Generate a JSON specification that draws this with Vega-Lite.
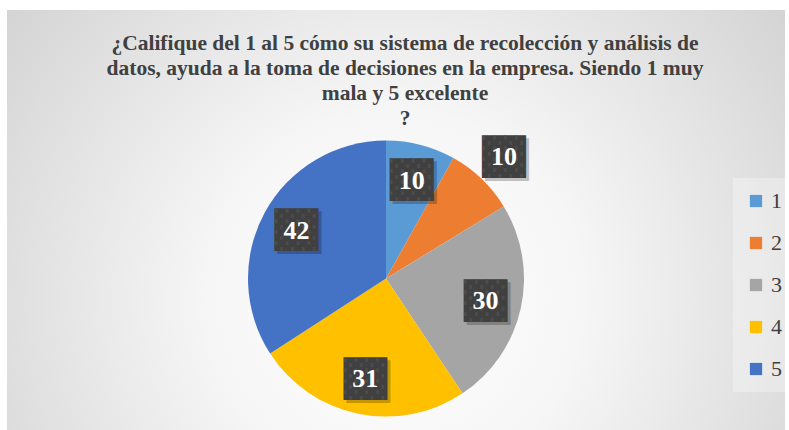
{
  "$schema": "https://vega.github.io/schema/vega-lite/v6.json",
  "width": 778,
  "height": 420,
  "padding": {"left": 7, "top": 10, "right": 4, "bottom": 0},
  "autosize": {"type": "none"},
  "background": "#ffffff",
  "config": {"view": {"stroke": null}},
  "title": {
    "text": [
      "¿Califique del 1 al 5 cómo su sistema de recolección y análisis de",
      "datos, ayuda a la toma de decisiones en la empresa. Siendo 1 muy",
      "mala y 5 excelente",
      "?"
    ],
    "font": "'Liberation Serif', 'Times New Roman', serif",
    "fontSize": 21.5,
    "fontWeight": "bold",
    "color": "#404040",
    "lineHeight": 25,
    "offset": -119,
    "dx": 9
  },
  "data": {
    "values": [
      {"cat": "1", "v": 10},
      {"cat": "2", "v": 10},
      {"cat": "3", "v": 30},
      {"cat": "4", "v": 31},
      {"cat": "5", "v": 42}
    ]
  },
  "layer": [
    {
      "mark": {
        "type": "rect",
        "fill": {
          "gradient": "radial",
          "x1": 0.5, "y1": 0.6, "r1": 0,
          "x2": 0.5, "y2": 0.6, "r2": 0.8,
          "stops": [
            {"offset": 0, "color": "#ffffff"},
            {"offset": 0.3, "color": "#f6f6f6"},
            {"offset": 1, "color": "#c4c4c4"}
          ]
        }
      },
      "encoding": {}
    },
    {
      "mark": {"type": "arc", "radius": 138, "xOffset": -10, "yOffset": 58.5},
      "encoding": {
        "theta": {"field": "v", "type": "quantitative", "stack": true},
        "color": {
          "field": "cat",
          "type": "nominal",
          "scale": {"domain": ["1", "2", "3", "4", "5"], "range": ["#5B9BD5", "#ED7D31", "#A5A5A5", "#FFC000", "#4472C4"]},
          "legend": {
            "title": null,
            "orient": "none",
            "legendX": 726,
            "legendY": 168,
            "symbolType": "square",
            "symbolSize": 150,
            "symbolStrokeWidth": 0,
            "labelFont": "'Liberation Serif', 'Times New Roman', serif",
            "labelFontSize": 22,
            "labelColor": "#404040",
            "labelOffset": 4,
            "rowPadding": 20,
            "padding": 12,
            "fillColor": "rgba(255,255,255,0.3)"
          }
        }
      }
    },
    {
      "mark": {"type": "text", "font": "DejaVu Sans Mono", "fontSize": 36, "color": "#000000", "opacity": 0.22, "xOffset": -10, "yOffset": 58.5, "dx": 3, "dy": 4.5, "baseline": "middle", "align": "center"},
      "encoding": {
        "theta": {"field": "v", "type": "quantitative", "stack": true},
        "radius": {"value": 102},
        "text": {"condition": {"test": "datum.cat !== '2'", "value": "██"}, "value": ""}
      }
    },
    {
      "mark": {"type": "text", "font": "DejaVu Sans Mono", "fontSize": 36, "color": "#000000", "opacity": 0.22, "xOffset": -10, "yOffset": 58.5, "dx": 3, "dy": 4.5, "baseline": "middle", "align": "center"},
      "encoding": {
        "theta": {"field": "v", "type": "quantitative", "stack": true},
        "radius": {"value": 170},
        "text": {"condition": {"test": "datum.cat === '2'", "value": "██"}, "value": ""}
      }
    },
    {
      "mark": {"type": "text", "font": "DejaVu Sans Mono", "fontSize": 36, "color": "#404040", "xOffset": -10, "yOffset": 58.5, "dy": 1.5, "baseline": "middle", "align": "center"},
      "encoding": {
        "theta": {"field": "v", "type": "quantitative", "stack": true},
        "radius": {"value": 102},
        "text": {"condition": {"test": "datum.cat !== '2'", "value": "██"}, "value": ""}
      }
    },
    {
      "mark": {"type": "text", "font": "DejaVu Sans Mono", "fontSize": 36, "color": "#404040", "xOffset": -10, "yOffset": 58.5, "dy": 1.5, "baseline": "middle", "align": "center"},
      "encoding": {
        "theta": {"field": "v", "type": "quantitative", "stack": true},
        "radius": {"value": 170},
        "text": {"condition": {"test": "datum.cat === '2'", "value": "██"}, "value": ""}
      }
    },
    {
      "mark": {"type": "text", "font": "DejaVu Sans Mono", "fontSize": 36, "color": "#4c4c4c", "xOffset": -10, "yOffset": 58.5, "dy": 1.5, "baseline": "middle", "align": "center"},
      "encoding": {
        "theta": {"field": "v", "type": "quantitative", "stack": true},
        "radius": {"value": 102},
        "text": {"condition": {"test": "datum.cat !== '2'", "value": "░░"}, "value": ""}
      }
    },
    {
      "mark": {"type": "text", "font": "DejaVu Sans Mono", "fontSize": 36, "color": "#4c4c4c", "xOffset": -10, "yOffset": 58.5, "dy": 1.5, "baseline": "middle", "align": "center"},
      "encoding": {
        "theta": {"field": "v", "type": "quantitative", "stack": true},
        "radius": {"value": 170},
        "text": {"condition": {"test": "datum.cat === '2'", "value": "░░"}, "value": ""}
      }
    },
    {
      "mark": {"type": "text", "font": "'Liberation Serif', 'Times New Roman', serif", "fontSize": 26, "fontWeight": "bold", "color": "#ffffff", "xOffset": -10, "yOffset": 58.5, "dy": 1, "baseline": "middle", "align": "center"},
      "encoding": {
        "theta": {"field": "v", "type": "quantitative", "stack": true},
        "radius": {"value": 102},
        "text": {"condition": {"test": "datum.cat !== '2'", "field": "v", "type": "quantitative"}, "value": ""}
      }
    },
    {
      "mark": {"type": "text", "font": "'Liberation Serif', 'Times New Roman', serif", "fontSize": 26, "fontWeight": "bold", "color": "#ffffff", "xOffset": -10, "yOffset": 58.5, "dy": 1, "baseline": "middle", "align": "center"},
      "encoding": {
        "theta": {"field": "v", "type": "quantitative", "stack": true},
        "radius": {"value": 170},
        "text": {"condition": {"test": "datum.cat === '2'", "field": "v", "type": "quantitative"}, "value": ""}
      }
    }
  ]
}
